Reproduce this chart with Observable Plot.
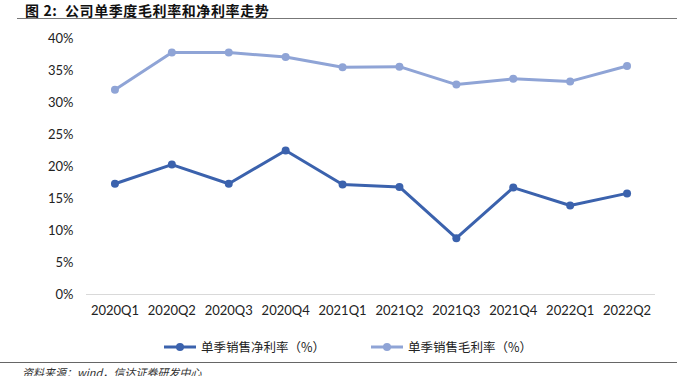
<!DOCTYPE html>
<html>
<head>
<meta charset="utf-8">
<script src="https://cdn.jsdelivr.net/npm/d3@7"></script>
<script src="https://cdn.jsdelivr.net/npm/@observablehq/plot@0.6"></script>
<style>
  html, body { margin: 0; padding: 0; background: #fff; overflow: hidden; }
  #wrap { position: relative; width: 677px; height: 376px; font-family: "Noto Sans CJK SC", sans-serif; }
  #title { position: absolute; left: 25px; top: 0px; font-size: 14px; font-weight: bold; color: #111; letter-spacing: 0.6px; }
  #tline { position: absolute; left: 17px; right: 0; top: 18px; height: 0; border-top: 1.5px solid #777; }
  #chart { position: absolute; left: 0; top: 0; }
  #legend { position: absolute; top: 337px; left: 0; width: 677px; height: 20px; font-size: 12.5px; color: #222; }
  .lg { position: absolute; display: flex; align-items: center; }
  #bline { position: absolute; left: 0; right: 0; top: 362px; height: 0; border-top: 1.5px solid #666; }
  #caption { position: absolute; left: 22px; top: 364px; font-size: 11px; font-style: italic; color: #333; }
</style>
</head>
<body>
<div id="wrap">
  <div id="title">图 2:&nbsp; 公司单季度毛利率和净利率走势</div>
  <div id="tline"></div>
  <div id="chart"></div>
  <div id="legend"></div>
  <div id="bline"></div>
  <div id="caption">资料来源：wind，信达证券研发中心</div>
</div>
<script>
const quarters = ["2020Q1","2020Q2","2020Q3","2020Q4","2021Q1","2021Q2","2021Q3","2021Q4","2022Q1","2022Q2"];
const netMargin = [17.3, 20.3, 17.3, 22.5, 17.2, 16.8, 8.8, 16.7, 13.9, 15.8];
const grossMargin = [32.0, 37.8, 37.8, 37.1, 35.5, 35.6, 32.8, 33.7, 33.3, 35.7];
const seriesNames = ["单季销售净利率（%）", "单季销售毛利率（%）"];
const seriesColors = ["#3b62ad", "#8fa4d6"];
const yTicks = [0, 5, 10, 15, 20, 25, 30, 35, 40];

const rows = [];
quarters.forEach((q, i) => {
  rows.push({q, v: netMargin[i], s: seriesNames[0]});
  rows.push({q, v: grossMargin[i], s: seriesNames[1]});
});

const plot = Plot.plot({
  width: 677,
  height: 320,
  marginTop: 38,
  marginBottom: 26,
  marginLeft: 86,
  marginRight: 22,
  style: { fontFamily: "Lato, 'Open Sans', sans-serif", fontSize: "13px", color: "#222", background: "transparent" },
  x: { type: "point", domain: quarters, padding: 0.5, round: false, label: null },
  y: { domain: [0, 40], label: null },
  color: { domain: seriesNames, range: seriesColors },
  marks: [
    Plot.axisY({ ticks: yTicks, tickFormat: d => d + "%", tickSize: 0, tickPadding: 13, label: null, fontSize: 13 }),
    Plot.axisX({ tickSize: 0, tickPadding: 11, label: null, fontSize: 13 }),
    Plot.ruleY([0], { stroke: "#d9d9d9", strokeWidth: 1.2 }),
    Plot.line(rows, { x: "q", y: "v", z: "s", stroke: "s", strokeWidth: 3 }),
    Plot.dot(rows, { x: "q", y: "v", fill: "s", r: 4 })
  ]
});
document.getElementById("chart").appendChild(plot);

// legend
const legend = document.getElementById("legend");
const lx = [163, 370];
seriesNames.forEach((name, i) => {
  const el = document.createElement("div");
  el.className = "lg";
  el.style.left = lx[i] + "px";
  el.innerHTML = `<svg width="34" height="14" style="margin-right:4px"><line x1="1" y1="7" x2="33" y2="7" stroke="${seriesColors[i]}" stroke-width="3"/><circle cx="17" cy="7" r="4" fill="${seriesColors[i]}"/></svg><span>${name}</span>`;
  legend.appendChild(el);
});
</script>
</body>
</html>
